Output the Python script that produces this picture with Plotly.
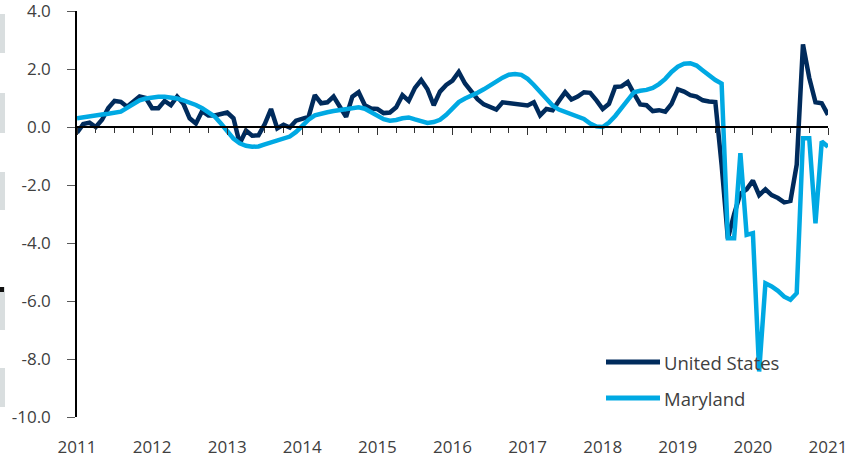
import plotly.graph_objects as go

# ---------------- data ----------------
start_year = 2011
us = [
    -0.2, 0.1, 0.15, 0.0, 0.25, 0.65, 0.9, 0.87, 0.7, 0.9, 1.05, 1.0,
    0.65, 0.65, 0.9, 0.75, 1.05, 0.8, 0.3, 0.12, 0.55, 0.4, 0.4, 0.45,
    0.5, 0.3, -0.57, -0.12, -0.3, -0.29, 0.1, 0.62, -0.05, 0.08, -0.02, 0.22,
    0.3, 0.35, 1.1, 0.82, 0.85, 1.05, 0.7, 0.35, 1.05, 1.2, 0.75, 0.64,
    0.62, 0.48, 0.5, 0.68, 1.1, 0.9, 1.35, 1.62, 1.3, 0.75, 1.22, 1.45,
    1.6, 1.9, 1.5, 1.22, 0.96, 0.78, 0.68, 0.6, 0.85, 0.82, 0.8, 0.78,
    0.74, 0.85, 0.4, 0.62, 0.58, 0.9, 1.2, 0.95, 1.05, 1.2, 1.18, 0.92,
    0.62, 0.8, 1.38, 1.4, 1.55, 1.15, 0.78, 0.75, 0.55, 0.58, 0.53, 0.8,
    1.3, 1.22, 1.1, 1.05, 0.92, 0.88, 0.86, -1.3, -3.85, -3.0, -2.3, -2.15,
    -1.85, -2.35, -2.15, -2.35, -2.45, -2.6, -2.55, -1.3, 2.85, 1.7, 0.85, 0.82,
    0.42,
]
maryland = [
    0.30, 0.34, 0.38, 0.41, 0.43, 0.46, 0.48, 0.53, 0.66, 0.8, 0.92, 0.98,
    1.02, 1.04, 1.04, 1.02, 0.98, 0.92, 0.85, 0.76, 0.65, 0.52, 0.36, 0.12,
    -0.15, -0.4, -0.56, -0.65, -0.68, -0.67, -0.6, -0.53, -0.48, -0.42, -0.33, -0.17,
    0.05, 0.25, 0.4, 0.47, 0.51, 0.55, 0.58, 0.6, 0.65, 0.68, 0.63, 0.5,
    0.4, 0.27, 0.22, 0.24, 0.3, 0.33, 0.26, 0.2, 0.14, 0.17, 0.25, 0.42,
    0.65, 0.86, 0.98, 1.07, 1.18, 1.3, 1.44, 1.58, 1.7, 1.8, 1.83, 1.8,
    1.66, 1.45, 1.2, 0.95, 0.74, 0.6, 0.52, 0.46, 0.38, 0.28, 0.12, 0.02,
    0.0, 0.15, 0.38, 0.66, 0.98, 1.2, 1.25, 1.28, 1.35, 1.48, 1.66, 1.9,
    2.08, 2.18, 2.2, 2.12, 1.95, 1.78, 1.62, 1.5, -3.84, -3.84, -0.9, -3.72,
    -3.66, -8.43, -5.39, -5.5, -5.65, -5.85, -5.96, -5.73, -0.39, -0.39, -3.32, -0.5,
    -0.68,
]
series_names = ["United States", "Maryland"]
year_ticks = list(range(2011, 2022))
year_labels = [str(y) for y in year_ticks]
y_ticks = [-10, -8, -6, -4, -2, 0, 2, 4]
y_labels = ["-10.0", "-8.0", "-6.0", "-4.0", "-2.0", "0.0", "2.0", "4.0"]

x_vals = [start_year + i / 12 for i in range(len(us))]

# ---------------- style ----------------
US_COLOR = "#002B5C"
MD_COLOR = "#00A9E3"
TEXT_COLOR = "#404040"
FONT = "Open Sans, sans-serif"

W, H = 856, 465
ML, MR, MT, MB = 77, 28, 11, 48
PW, PH = W - ML - MR, H - MT - MB


def px_x(px):
    return (px - ML) / PW


def px_y(py):
    return (H - MB - py) / PH


fig = go.Figure()
fig.add_trace(go.Scatter(x=x_vals, y=us, mode="lines", name=series_names[0],
                         line=dict(color=US_COLOR, width=4.5), showlegend=False))
fig.add_trace(go.Scatter(x=x_vals, y=maryland, mode="lines", name=series_names[1],
                         line=dict(color=MD_COLOR, width=4.5), showlegend=False))
# helper trace so the zero-line axis is drawn
fig.add_trace(go.Scatter(x=[year_ticks[0]], y=[0], xaxis="x2", mode="lines",
                         line=dict(width=0), showlegend=False, hoverinfo="skip"))

shapes = []
# legend samples (manual)
for name, color, py in [(series_names[0], US_COLOR, 362), (series_names[1], MD_COLOR, 398)]:
    shapes.append(dict(type="line", xref="paper", yref="paper",
                       x0=px_x(606), x1=px_x(660), y0=px_y(py), y1=px_y(py),
                       line=dict(color=color, width=5)))
# grey slide-edge marks on the far left
for y0, y1 in [(14, 53), (93, 133), (172, 210), (287, 330), (368, 407)]:
    shapes.append(dict(type="rect", xref="paper", yref="paper",
                       x0=px_x(0), x1=px_x(5), y0=px_y(y1), y1=px_y(y0),
                       fillcolor="#d9dedf", line=dict(width=0), layer="below"))
shapes.append(dict(type="rect", xref="paper", yref="paper",
                   x0=px_x(0), x1=px_x(4), y0=px_y(292), y1=px_y(287),
                   fillcolor="#111111", line=dict(width=0)))

annotations = []
for name, py in [(series_names[0], 362), (series_names[1], 398)]:
    annotations.append(dict(text=name, xref="paper", yref="paper",
                            x=px_x(662), y=px_y(py), xanchor="left", yanchor="middle",
                            showarrow=False, font=dict(family=FONT, size=18.5, color=TEXT_COLOR)))

fig.update_layout(
    width=W, height=H,
    margin=dict(l=ML, r=MR, t=MT, b=MB, autoexpand=False),
    paper_bgcolor="white", plot_bgcolor="white",
    font=dict(family=FONT, color=TEXT_COLOR),
    showlegend=False,
    xaxis=dict(range=[2011, 2021], tickvals=year_ticks, ticktext=year_labels,
               showline=False, showgrid=False, zeroline=False, ticks="",
               automargin=False, ticklabeloverflow="allow",
               ticklabelstandoff=18, tickfont=dict(family=FONT, size=17, color=TEXT_COLOR)),
    xaxis2=dict(overlaying="x", anchor="free", position=10 / 14, range=[2011, 2021],
                showline=True, linecolor="black", linewidth=1.5, automargin=False,
                ticks="outside", tickmode="linear", tick0=2011, dtick=1,
                ticklen=7, tickcolor="#333333", tickwidth=1,
                minor=dict(ticks="outside", tick0=2011, dtick=0.25, ticklen=5,
                           tickcolor="#333333", tickwidth=1, showgrid=False),
                showticklabels=False, showgrid=False, zeroline=False),
    yaxis=dict(range=[-10, 4], tickvals=y_ticks, ticktext=y_labels,
               ticks="outside", ticklen=8, tickcolor="#595959", tickwidth=1,
               showline=True, linecolor="black", linewidth=1.5, automargin=False,
               ticklabeloverflow="allow",
               showgrid=False, zeroline=False, ticklabelstandoff=13,
               tickfont=dict(family=FONT, size=17, color=TEXT_COLOR)),
    shapes=shapes,
    annotations=annotations,
)

fig.write_html("out.html", config={"displayModeBar": False},
               post_script="document.body.style.margin='0';")
